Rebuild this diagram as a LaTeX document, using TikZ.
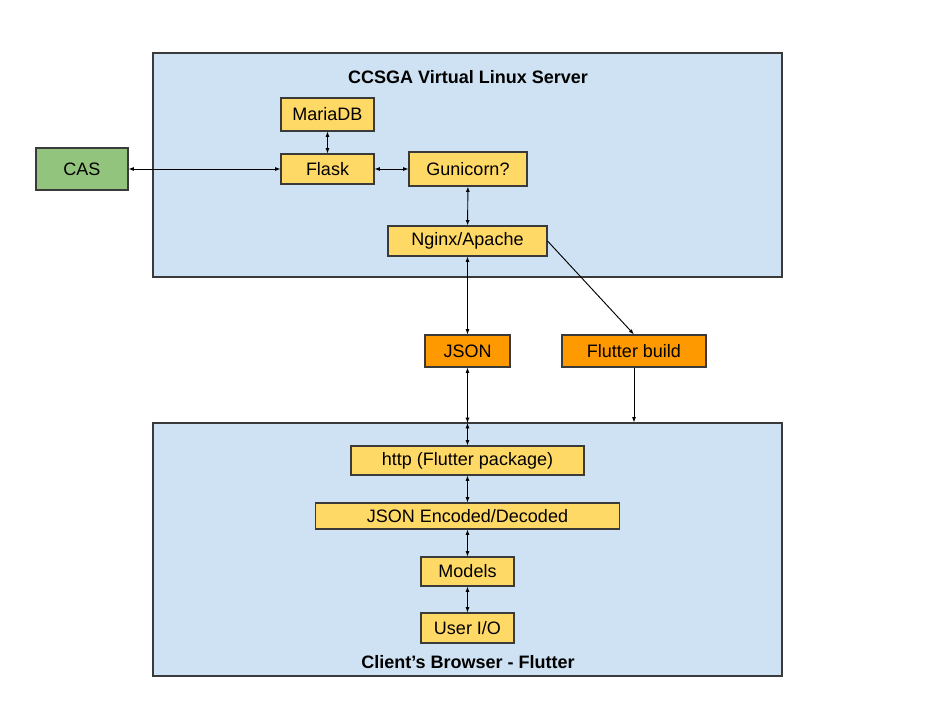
\documentclass[tikz,border=0pt]{standalone}
\usepackage{fontspec}
\setmainfont{Liberation Sans}
\usetikzlibrary{arrows.meta}
\definecolor{bluebg}{HTML}{CFE2F3}
\definecolor{ybox}{HTML}{FFD966}
\definecolor{obox}{HTML}{FF9900}
\definecolor{gbox}{HTML}{93C47D}
\definecolor{edge}{HTML}{3A3A3A}
\newdimen\upx \upx=0.75pt
\tikzset{
  box/.style={draw=edge, line width=0.8pt, inner sep=0pt, font=\fontsize{13.5}{16}\selectfont, text=black},
  ybx/.style={box, fill=ybox},
  obx/.style={box, fill=obox},
  gbx/.style={box, fill=gbox},
  region/.style={draw=edge, line width=0.8pt, fill=bluebg},
  title/.style={font=\fontsize{13.5}{16}\selectfont\bfseries, inner sep=0pt},
  conn/.style={line width=0.7pt, black},
  both/.style={conn, {Latex[length=4pt,width=3pt]}-{Latex[length=4pt,width=3pt]}},
  one/.style={conn, -{Latex[length=4pt,width=3pt]}},
}
\begin{document}
\begin{tikzpicture}[x=0.75pt, y=-0.75pt]
\useasboundingbox (0,0) rectangle (936,702);
% regions
\node[region, inner sep=0pt, minimum width=629\upx, minimum height=224\upx] (server) at (467.5,165) {};
\node[region, inner sep=0pt, minimum width=629\upx, minimum height=253\upx] (client) at (467.5,549.5) {};
\node[title] (stitle) at (468,77) {CCSGA Virtual Linux Server};
\node[title] (ctitle) at (468,662) {Client’s Browser - Flutter};
% nodes
\node[gbx, minimum width=92\upx, minimum height=42\upx] (cas) at (82,169) {CAS};
\node[ybx, minimum width=93\upx, minimum height=33\upx] (maria) at (327.5,114.5) {MariaDB};
\node[ybx, minimum width=93\upx, minimum height=30\upx] (flask) at (327.5,169) {Flask};
\node[ybx, minimum width=118\upx, minimum height=34\upx] (guni) at (468,169) {Gunicorn?};
\node[ybx, minimum width=159\upx, minimum height=30\upx] (nginx) at (467.5,241) {Nginx/Apache};
\node[obx, minimum width=85\upx, minimum height=32\upx] (json) at (467.5,351) {JSON};
\node[obx, minimum width=144\upx, minimum height=32\upx] (fb) at (634,351) {Flutter build};
\node[ybx, minimum width=233\upx, minimum height=29\upx] (http) at (467.5,460.5) {http (Flutter package)};
\node[ybx, minimum width=304\upx, minimum height=26\upx] (enc) at (467.5,516) {JSON Encoded/Decoded};
\node[ybx, minimum width=93\upx, minimum height=29\upx] (models) at (467.5,571.5) {Models};
\node[ybx, minimum width=93\upx, minimum height=30\upx] (userio) at (467.5,628) {User I/O};
\coordinate (ctop) at (467.5,423);
% connectors
\draw[both] (cas) -- (flask);
\draw[both] (maria) -- (flask);
\draw[both] (flask) -- (guni);
\draw[both] (guni) -- (nginx);
\draw[both] (nginx) -- (json);
\draw[both] (json) -- (ctop);
\draw[both] (ctop) -- (http);
\draw[both] (http) -- (enc);
\draw[both] (enc) -- (models);
\draw[both] (models) -- (userio);
\draw[one] (nginx.east) -- (fb.north);
\draw[one] (fb.south) -- (fb.south |- client.north);
\end{tikzpicture}
\end{document}
